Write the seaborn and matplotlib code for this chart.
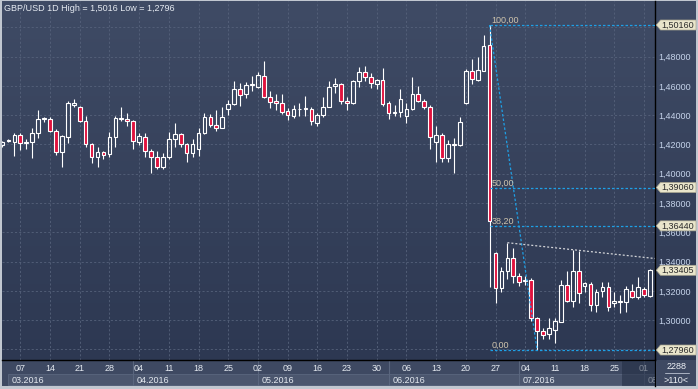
import numpy as np
import matplotlib
matplotlib.use("Agg")
import matplotlib.pyplot as plt
import matplotlib.transforms as mtransforms
from matplotlib.colors import LinearSegmentedColormap
from matplotlib.patches import Rectangle, Polygon
import seaborn as sns

# ---------------- data (GBP/USD daily, 02.03.2016 - 02.08.2016) ----------------
opens = [1.4195, 1.4222, 1.4215, 1.4263, 1.4208, 1.4215, 1.4276, 1.4372, 1.4376, 1.4294,
         1.4147, 1.4253, 1.4472, 1.4458, 1.4363, 1.4201, 1.4112, 1.4147, 1.4133, 1.4249,
         1.4374, 1.4372, 1.4358, 1.4215, 1.4253, 1.4155, 1.4117, 1.4049, 1.4117, 1.4235,
         1.4272, 1.4201, 1.4144, 1.4167, 1.4276, 1.4390, 1.4333, 1.4315, 1.4445, 1.4474,
         1.4577, 1.4543, 1.4604, 1.4591, 1.4668, 1.4527, 1.4495, 1.4482, 1.4427, 1.4397,
         1.4443, 1.4447, 1.4445, 1.4347, 1.4400, 1.4459, 1.4600, 1.4613, 1.4498, 1.4482,
         1.4634, 1.4693, 1.4663, 1.4611, 1.4639, 1.4482, 1.4418, 1.4420, 1.4391, 1.4441,
         1.4543, 1.4500, 1.4454, 1.4220, 1.4263, 1.4106, 1.4201, 1.4193, 1.4481, 1.4702,
         1.4640, 1.4704, 1.4877, 1.3457, 1.3218, 1.3336, 1.3422, 1.3302, 1.3268, 1.3274,
         1.3013, 1.2926, 1.2903, 1.2933, 1.2989, 1.3240, 1.3133, 1.3336, 1.3235, 1.3245,
         1.3103, 1.3199, 1.3225, 1.3120, 1.3128, 1.3122, 1.3201, 1.3160, 1.3211, 1.3165]
highs = [1.4225, 1.4238, 1.4281, 1.4276, 1.4238, 1.4310, 1.4436, 1.4390, 1.4385, 1.4303,
         1.4265, 1.4499, 1.4511, 1.4465, 1.4395, 1.4208, 1.4181, 1.4155, 1.4288, 1.4395,
         1.4454, 1.4417, 1.4367, 1.4276, 1.4276, 1.4167, 1.4155, 1.4140, 1.4285, 1.4344,
         1.4281, 1.4208, 1.4235, 1.4310, 1.4417, 1.4408, 1.4436, 1.4458, 1.4504, 1.4633,
         1.4618, 1.4625, 1.4668, 1.4695, 1.4770, 1.4568, 1.4543, 1.4547, 1.4450, 1.4470,
         1.4486, 1.4532, 1.4459, 1.4413, 1.4522, 1.4634, 1.4657, 1.4618, 1.4527, 1.4641,
         1.4732, 1.4739, 1.4686, 1.4645, 1.4720, 1.4498, 1.4470, 1.4577, 1.4486, 1.4663,
         1.4600, 1.4509, 1.4470, 1.4327, 1.4277, 1.4230, 1.4245, 1.4388, 1.4713, 1.4782,
         1.4799, 1.4948, 1.5016, 1.3467, 1.3365, 1.3529, 1.3491, 1.3320, 1.3302, 1.3286,
         1.3024, 1.2944, 1.3013, 1.3013, 1.3274, 1.3336, 1.3479, 1.3470, 1.3263, 1.3263,
         1.3211, 1.3263, 1.3263, 1.3194, 1.3172, 1.3233, 1.3245, 1.3297, 1.3229, 1.3347]
lows = [1.4185, 1.4215, 1.4122, 1.4162, 1.4169, 1.4110, 1.4247, 1.4356, 1.4287, 1.4128,
        1.4049, 1.4212, 1.4458, 1.4354, 1.4185, 1.4076, 1.4049, 1.4103, 1.4117, 1.4185,
        1.4360, 1.4326, 1.4167, 1.4196, 1.4117, 1.4003, 1.4035, 1.4035, 1.4101, 1.4185,
        1.4181, 1.4083, 1.4117, 1.4124, 1.4269, 1.4322, 1.4294, 1.4310, 1.4401, 1.4469,
        1.4466, 1.4520, 1.4568, 1.4584, 1.4520, 1.4450, 1.4436, 1.4411, 1.4368, 1.4381,
        1.4391, 1.4391, 1.4334, 1.4329, 1.4388, 1.4454, 1.4554, 1.4477, 1.4436, 1.4477,
        1.4595, 1.4634, 1.4584, 1.4577, 1.4466, 1.4375, 1.4391, 1.4386, 1.4350, 1.4436,
        1.4493, 1.4441, 1.4172, 1.4083, 1.4083, 1.4082, 1.4008, 1.4190, 1.4474, 1.4611,
        1.4636, 1.4704, 1.3229, 1.3115, 1.3194, 1.3279, 1.3252, 1.3235, 1.3240, 1.2994,
        1.2796, 1.2869, 1.2869, 1.2842, 1.2989, 1.3126, 1.3092, 1.3115, 1.3194, 1.3063,
        1.3058, 1.3160, 1.3065, 1.3092, 1.3047, 1.3058, 1.3149, 1.3142, 1.3160, 1.3160]
closes = [1.4215, 1.4228, 1.4263, 1.4208, 1.4219, 1.4276, 1.4372, 1.4381, 1.4294, 1.4147,
          1.4258, 1.4481, 1.4481, 1.4363, 1.4201, 1.4112, 1.4147, 1.4126, 1.4249, 1.4379,
          1.4379, 1.4358, 1.4224, 1.4258, 1.4155, 1.4117, 1.4049, 1.4117, 1.4235, 1.4272,
          1.4201, 1.4144, 1.4201, 1.4276, 1.4390, 1.4331, 1.4315, 1.4390, 1.4474, 1.4577,
          1.4536, 1.4607, 1.4611, 1.4673, 1.4527, 1.4493, 1.4482, 1.4420, 1.4400, 1.4441,
          1.4445, 1.4443, 1.4359, 1.4402, 1.4459, 1.4595, 1.4613, 1.4500, 1.4482, 1.4634,
          1.4693, 1.4663, 1.4618, 1.4639, 1.4475, 1.4413, 1.4420, 1.4509, 1.4445, 1.4545,
          1.4500, 1.4454, 1.4249, 1.4263, 1.4106, 1.4203, 1.4195, 1.4353, 1.4702, 1.4645,
          1.4709, 1.4873, 1.3679, 1.3218, 1.3336, 1.3422, 1.3302, 1.3258, 1.3274, 1.3013,
          1.2926, 1.2898, 1.2944, 1.2994, 1.3240, 1.3133, 1.3336, 1.3187, 1.3252, 1.3103,
          1.3194, 1.3225, 1.3092, 1.3130, 1.3126, 1.3211, 1.3160, 1.3225, 1.3172, 1.3340]

week_ticks = [3, 8, 13, 18, 23, 28, 33, 38, 43, 48, 53, 58, 63, 68, 73, 78, 83, 88, 93, 98, 103, 108]
week_labels = ["07", "14", "21", "28", "04", "11", "18", "25", "02", "09", "16",
               "23", "30", "06", "13", "20", "27", "04", "11", "18", "25", "01"]
month_starts = [1, 22, 43, 65, 87, 108]
month_labels = ["03.2016", "04.2016", "05.2016", "06.2016", "07.2016", "08.2016"]

y_ticks = [1.28, 1.30, 1.32, 1.34, 1.36, 1.38, 1.40, 1.42, 1.44, 1.46, 1.48, 1.50]
y_tick_labels = ["", "1,30000", "1,32000", "1,34000", "1,36000", "1,38000", "1,40000",
                 "1,42000", "1,44000", "1,46000", "1,48000", ""]

fib_start, fib_end = 82, 90
fib_levels = [1.5016, 1.3906, 1.3644, 1.2796]
fib_names = ["100,00", "50,00", "38,20", "0,00"]

marker_prices = [1.5016, 1.3906, 1.3644, 1.33405, 1.2796]
marker_texts = ["1,50160", "1,39060", "1,36440", "1,33405", "1,27960"]

trend_x = [85, 109.85]
trend_y = [1.3529, 1.3421]

title = "GBP/USD 1D High = 1,5016 Low = 1,2796"
bars_count_text = "2288"
zoom_text = ">110<"
shade_start = 104.25

# ---------------- styling ----------------
sns.set_theme(style="dark")
plt.rcParams['font.family'] = ['Liberation Sans', 'DejaVu Sans']
plt.rcParams['axes.unicode_minus'] = False

W, H = 698, 389
fig = plt.figure(figsize=(W / 100, H / 100), dpi=100, facecolor='#c1c7d0')


def box(x0, y0, x1, y1):
    return [x0 / W, 1 - y1 / H, (x1 - x0) / W, (y1 - y0) / H]


X_LEFT, X_RIGHT = -0.084, 109.85
Y_BOTTOM, Y_TOP = 1.27278, 1.51799
FS = 6.5
RED = '#e0123e'

# background gradient (plot + right price panel)
ax_bg = fig.add_axes(box(2, 1, 696, 360))
grad = np.linspace(0, 1, 256).reshape(-1, 1)
cmap = LinearSegmentedColormap.from_list('bg', ['#3f4b65', '#2d3852'])
ax_bg.imshow(grad, aspect='auto', cmap=cmap, extent=[0, 1, 0, 1], origin='upper')
ax_bg.set_axis_off()

# bottom band with months
ax_b = fig.add_axes(box(2, 360, 655, 386))
ax_b.set_facecolor('#3e4962')
ax_b.set_xlim(X_LEFT, X_RIGHT)
ax_b.set_ylim(0, 1)
ax_b.set_xticks([])
ax_b.set_yticks([])
for name, s in ax_b.spines.items():
    s.set_visible(name == 'right')
ax_b.spines['right'].set_color('black')
ax_b.spines['right'].set_linewidth(1.0)
bounds = month_starts + [X_RIGHT + 2]
for k, lab in enumerate(month_labels):
    x0, x1 = month_starts[k], bounds[k + 1]
    ax_b.add_patch(Rectangle((x0, 0.04), x1 - x0, 0.42, facecolor='#4b566e',
                             edgecolor='#5a667e', lw=0.6, zorder=1))
    if k > 0:
        ax_b.vlines(x0, 0.0, 1.0, color='#5a667e', lw=0.8, zorder=2)
    ax_b.annotate(lab, xy=(x0, 0.104), xytext=(2.6, 0), textcoords='offset points',
                  va='baseline', ha='left', color='#e4e9f0', fontsize=FS,
                  clip_on=True, zorder=3)

# bottom-right info panel
ax_rb = fig.add_axes(box(655.5, 360, 696, 386))
ax_rb.set_facecolor('#3e4962')
ax_rb.set_xticks([])
ax_rb.set_yticks([])
for s in ax_rb.spines.values():
    s.set_visible(False)
ax_rb.set_xlim(0, 1)
ax_rb.set_ylim(0, 1)
ax_rb.text(0.53, 1 - 9.3 / 26, bars_count_text, ha='center', va='baseline',
           color='#eef1f6', fontsize=FS)
ax_rb.plot([0.23, 0.83], [1 - 12.7 / 26] * 2, color='#aab2c2', lw=0.7)
ax_rb.text(0.52, 1 - 23.3 / 26, zoom_text, ha='center', va='baseline',
           color='#eef1f6', fontsize=FS)

# main price axes
ax = fig.add_axes(box(2, 1, 655, 360))
ax.set_facecolor('none')
ax.set_xlim(X_LEFT, X_RIGHT)
ax.set_ylim(Y_BOTTOM, Y_TOP)
for name, s in ax.spines.items():
    s.set_visible(name in ('right', 'bottom'))
    s.set_color('black')
    s.set_linewidth(1.0)

ax.set_xticks(week_ticks)
ax.set_xticklabels(week_labels)
ax.set_yticks(y_ticks)
ax.set_yticklabels(y_tick_labels)
ax.yaxis.tick_right()
ax.tick_params(axis='x', length=0, pad=2.9, labelsize=FS, labelcolor='#e4e9f0',
               bottom=True, labelbottom=True)
ax.tick_params(axis='y', length=0, pad=2.2, labelsize=FS, labelcolor='#c5d3ea',
               right=True, labelright=True, left=False, labelleft=False)
ax.grid(True, color='#56627b', linestyle=(0, (2.5, 2.5)), linewidth=0.6)
ax.set_axisbelow(True)

# candles
x = np.arange(len(opens))
o = np.array(opens)
c = np.array(closes)
h = np.array(highs)
l = np.array(lows)
tops = np.maximum(o, c)
bots = np.minimum(o, c)
ax.vlines(x, tops, h, color='white', lw=0.8, zorder=3)
ax.vlines(x, l, bots, color='white', lw=0.8, zorder=3)
faces = ['none' if cc >= oo else RED for oo, cc in zip(o, c)]
ax.bar(x, np.maximum(tops - bots, 0.00015), bottom=bots, width=0.62,
       color=faces, edgecolor='white', linewidth=0.8, zorder=4)

# fibonacci retracement
FIB = '#1ea0e6'
for lvl, name in zip(fib_levels, fib_names):
    ax.plot([fib_start, X_RIGHT], [lvl, lvl], color=FIB, lw=0.9,
            ls=(0, (2, 1.6)), zorder=5)
    ax.annotate(name, xy=(fib_start, lvl), xytext=(1.6, 1.5), textcoords='offset points',
                va='baseline', ha='left', color='#cfc4ad', fontsize=FS, zorder=6)
ax.plot([fib_start, fib_end], [fib_levels[0], fib_levels[-1]], color=FIB, lw=0.9,
        ls=(0, (2, 1.6)), zorder=5)

# trend line
ax.plot(trend_x, trend_y, color='#d2d4d8', lw=0.9, ls=(0, (1.6, 1.6)), zorder=5)

# price marker boxes on the right scale
ax_r = fig.add_axes(box(655, 1, 698, 360))
ax_r.set_xlim(655, 698)
ax_r.set_ylim(Y_BOTTOM, Y_TOP)
ax_r.set_axis_off()
hh = 5.0 / 1464
for p, t in zip(marker_prices, marker_texts):
    pts = [(656.3, p), (660.5, p + hh), (696, p + hh), (696, p - hh), (660.5, p - hh)]
    ax_r.add_patch(Polygon(pts, closed=True, facecolor='#e9e5cb', edgecolor='#aaa690',
                           lw=0.5, clip_on=False))
    ax_r.text(677.8, p, t, ha='center', va='center', color='#2a2a2a', fontsize=FS,
              clip_on=False)

# title
fig.text(4 / W, 1 - 10.7 / H, title, ha='left', va='baseline', color='#e6ebf2', fontsize=FS)

# dim overlay at the end of the time band
trans = mtransforms.blended_transform_factory(ax.transData, fig.transFigure)
fig.add_artist(Rectangle((shade_start, 1 - 386 / H), X_RIGHT - shade_start, 25.5 / H,
                         transform=trans, facecolor='#1f2a40', alpha=0.5,
                         edgecolor='none', zorder=5))

fig.savefig('out.png', dpi=100, facecolor=fig.get_facecolor())
